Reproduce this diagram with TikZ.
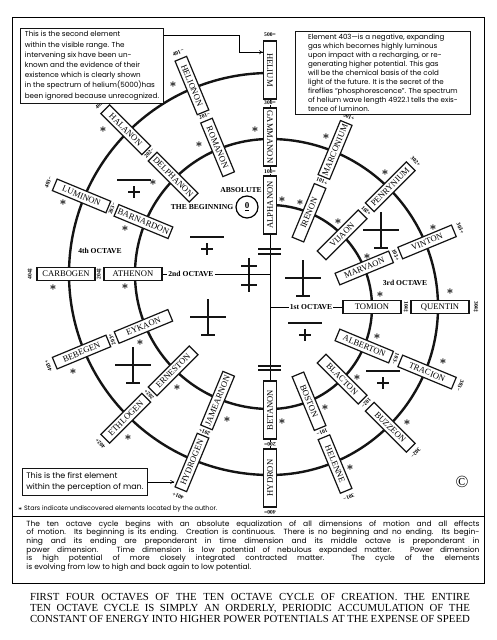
\documentclass[tikz,border=0pt]{standalone}
\usepackage{fontspec}
\setmainfont{Liberation Serif}
\newfontfamily\handfont{Poppins}
\usepackage{xcolor}
\definecolor{chartink}{HTML}{141414}
\usepackage{tikz}
\usetikzlibrary{arrows.meta,positioning,calc}

\newcommand{\fitline}[2]{\makebox[#1][s]{#2}}

\begin{document}
\begin{tikzpicture}[x=1pt,y=1pt,
  elem/.style={draw=chartink,line width=1.2pt,fill=white,minimum width=58pt,minimum height=12.5pt,inner xsep=2pt,inner ysep=1pt,font=\fontsize{8.6}{9}\selectfont},
  num/.style={fill=white,inner sep=0.4pt,font=\fontsize{5.6}{6}\selectfont\bfseries},
  starmark/.style={inner sep=0pt,font=\fontsize{12.5}{12.5}\selectfont\boldmath},
  octlabel/.style={inner sep=1pt,font=\fontsize{7.6}{8}\selectfont\bfseries},
  note/.style={draw=chartink,line width=0.9pt,fill=white,align=left,inner sep=3pt,anchor=north west},
  spiral/.style={line width=2.4pt,draw=chartink},
  sym/.style={line width=1.4pt,draw=chartink},
  ptr/.style={-{To[length=4pt,width=4pt]},line width=0.6pt},
  minusplus/.pic={\draw[sym] (-17,6)--(17,6) (-6,-6)--(6,-6) (0,-12)--(0,0);},
  crossbar/.pic={\draw[sym] (-18,0)--(18,0) (0,-18)--(0,18) (-7,-18)--(7,-18);}
]
\fill[white] (0,0) rectangle (497,640);
\useasboundingbox (0,0) rectangle (497,640);

\coordinate (c1) at (270,333);
\coordinate (c2) at (270,366);
\coordinate (axtop) at (270,600);
\coordinate (axbot) at (270,132);

\draw[line width=0.9pt] (12,57) rectangle (484,623);
\draw[line width=0.9pt] (12,124) -- (484,124);

\draw[line width=0.8pt] (axtop) -- (axbot);
\draw[spiral] (270,435) arc[start angle=90,end angle=-90,radius=102pt]
  arc[start angle=-90,end angle=-270,radius=135pt]
  arc[start angle=90,end angle=-90,radius=168pt]
  arc[start angle=-90,end angle=-270,radius=201pt];

\draw[sym] (258,391)--(281,391) (258,386)--(281,386);
\draw[sym] (258,274)--(281,274) (258,270)--(281,270);
\draw[sym] (249,382)--(249,348) (241,374)--(257,374) (241,355)--(257,355);
\pic at (134,454) {minusplus};
\pic at (207,397) {minusplus};
\pic at (305,311) {minusplus};
\pic at (383,263) {minusplus};
\pic at (208,323) {crossbar};
\pic at (381,410) {crossbar};
\pic at (303,362) {crossbar};
\pic at (133,275) {crossbar};

\node[elem,rotate=90] (alpha) at (270,435) {ALPHANON};
\node[elem,rotate=-90] (gamma) at (270,503) {GAMMANON};
\node[elem,rotate=-90] (hel) at (270,570) {HELIUM};
\node[elem,rotate=90] (beta) at (270,230) {BETANON};
\node[elem,rotate=90] (hydron) at (270,162) {HYDRON};
\node[num] (n100) at (270,468) {100=};
\node[num] (n300) at (270,537) {300=};
\node[num] (n500) at (270,605) {500=};
\node[num,rotate=180] (n200) at (270,196) {200=};
\node[num,rotate=180] (n400) at (270,128) {400=};

\foreach \ang/\inn/\out/\nin/\nout [count=\i] in {
  67.5/IRENON/MARCONIUM/101+/301+,
  45/VIJAON/PENRYNIUM/102+/302+,
  22.5/MARVAON/VINTON/103+/303+,
  0/TOMION/QUENTIN/104\ddag/304\ddag,
  -22.5/ALBERTON/TRACION/103−/303−,
  -45/BLACTON/BUZZEON/102−/302−,
  -67.5/BOSTON/HELENNE/101−/301−}{
  \node[elem,rotate=\ang] (ri\i) at ($(c1)+(\ang:102pt)$) {\inn};
  \node[elem,rotate=\ang] (ro\i) at ($(c1)+(\ang:170pt)$) {\out};
  \node[num,rotate=\ang-90] (rn\i) at ($(c1)+(\ang:136pt)$) {\nin};
  \node[num,rotate=\ang-90] (rm\i) at ($(c1)+(\ang:206pt)$) {\nout};
}

\foreach \ang/\inn/\out/\nin/\nout [count=\i] in {
  112.5/ROMANON/HELIONON/201−/401−,
  135/DELPHANON/HALANON/202−/402−,
  157.5/BARNARDON/LUMINON/203−/403−,
  180/ATHENON/CARBOGEN/204\ddag/404\ddag,
  202.5/EYKAON/BEBEGEN/203+/403+,
  225/ERNESTON/ETHLOGEN/202+/402+,
  247.5/JAMEARNON/HYDROGEN/201+/401+}{
  \node[elem,rotate=\ang-180] (li\i) at ($(c2)+(\ang:137pt)$) {\inn};
  \node[elem,rotate=\ang-180] (lo\i) at ($(c2)+(\ang:204pt)$) {\out};
  \node[num,rotate=\ang-90] (ln\i) at ($(c2)+(\ang:171pt)$) {\nin};
  \node[num,rotate=\ang-90] (lm\i) at ($(c2)+(\ang:240pt)$) {\nout};
}

\foreach \stx/\sty [count=\si] in {173/555,103/510,199/495,255/510,326/503,282/440,300/437,338/418,385/467,367/383,433/412,380/345,450/348,377/303,443/278,357/262,407/217,325/232,350/172,282/218,227/220,128/202,177/252,140/297,73/268,125/353,53/352,125/411,63/437,153/457}{
  \node[starmark] (st\si) at (\stx,\sty) {$\ast$};
}

\node[draw,circle,line width=1.2pt,minimum size=22pt,inner sep=0pt,font=\bfseries\fontsize{9}{9}\selectfont] (zero) at (247,433) {\underline{0}};
\node[octlabel,left=1pt of zero] (begin) {THE BEGINNING};
\node[octlabel] (absol) at (241,450) {ABSOLUTE};
\node[octlabel] (oct4) at (100,389) {4th OCTAVE};
\node[octlabel] (oct2) at (191,366) {2nd OCTAVE};
\node[octlabel] (oct1) at (311,333) {1st OCTAVE};
\node[octlabel] (oct3) at (405,357) {3rd OCTAVE};
\draw[line width=0.7pt] (li4.east) -- (oct2.west);
\draw[line width=0.7pt] (oct2.east) -- (oct2.east -| c2);
\draw[line width=0.7pt] (oct1.west -| c1) -- (oct1.west);
\draw[line width=0.7pt] (oct1.east) -- (ri4.west);

\node[note,minimum width=143pt,minimum height=72pt,font=\handfont\fontsize{7.2}{10.2}\selectfont] (note2) at (20,612) {This is the second element\\
within the visible range. The\\
intervening six have been un-\\
known and the evidence of their\\
existence which is clearly shown\\
in the spectrum of helium(5000)has\\
been ignored because unrecognized.};

\node[note,minimum width=175pt,minimum height=81pt,font=\handfont\fontsize{7.1}{8.9}\selectfont] (note3) at (295,609) {Element 403—is a negative, expanding\\
gas which becomes highly luminous\\
upon impact with a recharging, or re-\\
generating higher potential. This gas\\
will be the chemical basis of the cold\\
light of the future. It is the secret of the\\
fireflies “phosphorescence”. The spectrum\\
of helium wave length 4922.1 tells the exis-\\
tence of luminon.};

\node[note,minimum width=125pt,minimum height=27pt,font=\handfont\fontsize{8}{11}\selectfont] (note1) at (22,172) {This is the first element\\
within the perception of man.};

\draw[ptr] ($(note2.north east)+(0,-7)$) -- ++(75,0) |- ($(hel.south west)!0.2!(hel.south east)$);
\draw[ptr] (note1.east) -- (note1.east -| lo7.north west);

\node[font=\fontsize{17}{17}\selectfont,inner sep=0pt] (copy) at (462,158) {\textcopyright};

\node[anchor=west,inner sep=0pt,font=\handfont\fontsize{6.4}{7}\selectfont] (starnote) at (18,131) {{\boldmath$\ast$} Stars indicate undiscovered elements located by the author.};

\node[align=left,inner sep=0pt,font=\handfont\fontsize{7.5}{8.7}\selectfont] (para) at (253,94) {\fitline{453pt}{The ten octave cycle begins with an absolute equalization of all dimensions of motion and all effects}\\
\fitline{453pt}{of motion. Its beginning is its ending. Creation is continuous. There is no beginning and no ending. Its begin-}\\
\fitline{453pt}{ning and its ending are preponderant in time dimension and its middle octave is preponderant in}\\
\fitline{453pt}{power dimension. Time dimension is low potential of nebulous expanded matter. Power dimension}\\
\fitline{453pt}{is high potential of more closely integrated contracted matter. The cycle of the elements}\\
\makebox[453pt][l]{is evolving from low to high and back again to low potential.}};

\node[align=center,inner sep=0pt,font=\fontsize{10.8}{11}\selectfont] (caption) at (250,32) {\fitline{440pt}{FIRST FOUR OCTAVES OF THE TEN OCTAVE CYCLE OF CREATION. THE ENTIRE}\\
\fitline{440pt}{TEN OCTAVE CYCLE IS SIMPLY AN ORDERLY, PERIODIC ACCUMULATION OF THE}\\
\fitline{440pt}{CONSTANT OF ENERGY INTO HIGHER POWER POTENTIALS AT THE EXPENSE OF SPEED}};
\end{tikzpicture}
\end{document}
